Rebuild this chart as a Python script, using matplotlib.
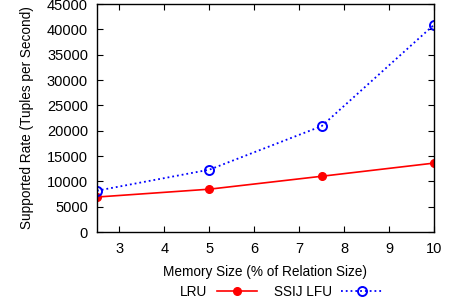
import matplotlib
matplotlib.use("Agg")
import matplotlib.pyplot as plt

plt.rcParams["font.family"] = ["Liberation Sans", "DejaVu Sans"]
plt.rcParams["font.size"] = 9.8

memory_size = [2.5, 5, 7.5, 10]
lru_rate = [6900, 8450, 11000, 13600]
lfu_rate = [8150, 12300, 20900, 40900]
x_ticks = [3, 4, 5, 6, 7, 8, 9, 10]
y_ticks = list(range(0, 45001, 5000))

fig = plt.figure(figsize=(4.56, 3.04), dpi=100)
ax = fig.add_axes([97 / 456, 1 - 232 / 304, (434 - 97) / 456, (232 - 4) / 304])

ax.plot(memory_size, lru_rate, color="red", linestyle="-", linewidth=1.2,
        marker="o", markersize=5.5, label="LRU")
ax.plot(memory_size, lfu_rate, color="blue", linestyle=":", linewidth=1.3,
        marker="o", markersize=6.5, markerfacecolor="none", markeredgewidth=1.4,
        label="SSIJ LFU")

ax.set_xlim(2.5, 10)
ax.set_ylim(0, 45000)
ax.set_xticks(x_ticks)
ax.set_yticks(y_ticks)
ax.tick_params(direction="in", top=True, right=True, length=4, width=0.8,
               labelsize=10.5)
ax.tick_params(axis="x", pad=7.5)
ax.tick_params(axis="y", pad=6.5)
for s in ax.spines.values():
    s.set_linewidth(1)

ax.set_xlabel("Memory Size (% of Relation Size)", labelpad=6)
ax.set_ylabel("Supported Rate (Tuples per Second)", labelpad=9)

ax.legend(loc="center", bbox_to_anchor=(0.546, -0.263), ncol=2, frameon=False,
          markerfirst=False, handlelength=3.0, columnspacing=1.2, handletextpad=0.7)

fig.savefig("out.png", dpi=100)
